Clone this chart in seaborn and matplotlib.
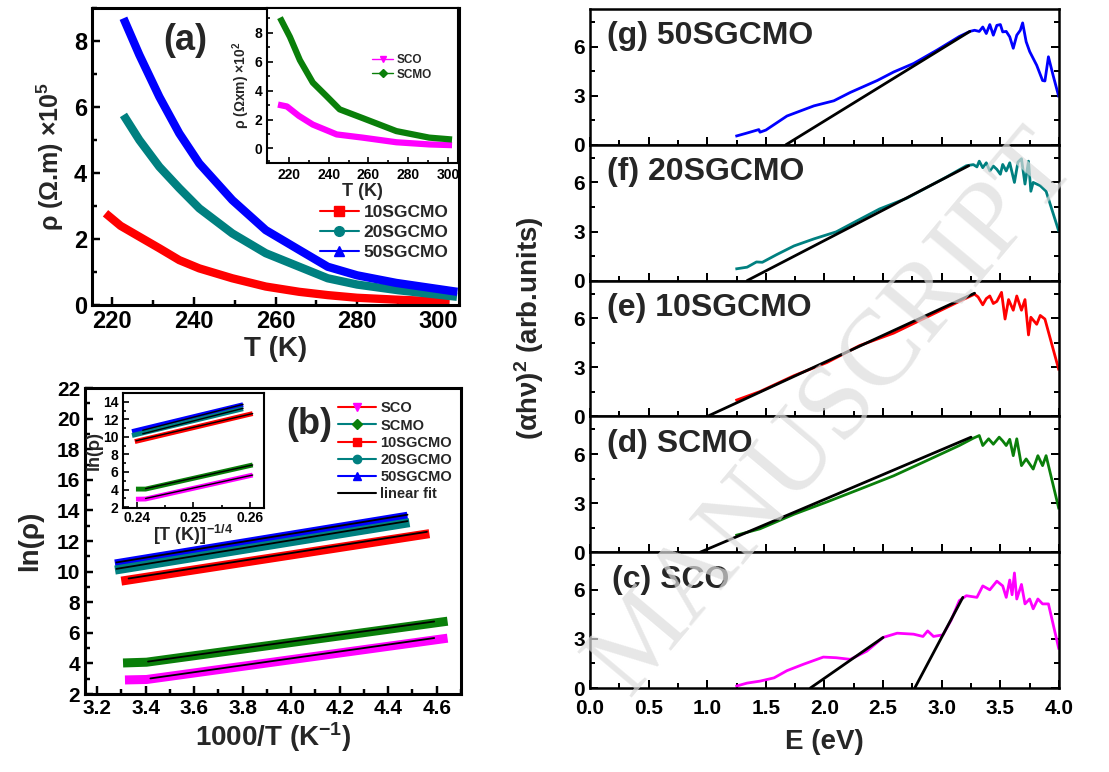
import matplotlib
matplotlib.use('Agg')
import matplotlib.pyplot as plt
from matplotlib.lines import Line2D
from matplotlib.ticker import MultipleLocator, FormatStrFormatter
import pandas as pd
import seaborn as sns

RED, TEAL, BLUE, GREEN, MAGENTA = '#ff0000', '#008080', '#0000ff', '#0a7f0a', '#ff00ff'

# ---- (a) rho vs T, main panel (x10^5 Ohm.m)
t_10 = [218.3, 222, 226.6, 231.5, 236.4, 241.3, 249.4, 257.6, 265.8, 272.8, 280, 290, 302.7]
rho_10 = [2.78, 2.4, 2.07, 1.72, 1.36, 1.11, 0.81, 0.56, 0.4, 0.3, 0.22, 0.16, 0.1]
t_20 = [222.7, 226.6, 231.5, 236.4, 241.3, 249.4, 257.6, 265.8, 272.8, 280, 290, 304.5]
rho_20 = [5.76, 5.0, 4.19, 3.54, 2.93, 2.17, 1.57, 1.16, 0.81, 0.62, 0.45, 0.25]
t_50 = [222.7, 226.6, 231.5, 236.4, 241.3, 249.4, 257.6, 265.8, 272.8, 280, 289.6, 304.6]
rho_50 = [8.69, 7.58, 6.31, 5.2, 4.29, 3.18, 2.27, 1.67, 1.16, 0.9, 0.67, 0.4]

# ---- (a) inset (x10^2)
t_sco = [214.5, 219, 225, 232, 240.5, 244, 257, 274, 290.5, 302]
rho_sco = [3.03, 2.9, 2.25, 1.65, 1.17, 0.97, 0.75, 0.43, 0.28, 0.23]
t_scmo = [215.5, 220.5, 225.5, 232, 239, 245.5, 257, 274, 290.5, 302]
rho_scmo = [9.03, 7.7, 6.1, 4.55, 3.6, 2.7, 2.1, 1.2, 0.75, 0.62]

# ---- (b) ln(rho) vs 1000/T
inv_sco = [3.315, 3.404, 4.645]
ln_sco = [2.92, 2.95, 5.65]
inv_scmo = [3.307, 3.404, 4.645]
ln_scmo = [4.03, 4.08, 6.76]
inv_10 = [3.30, 4.57]
ln_10 = [9.38, 12.48]
inv_20 = [3.274, 4.488]
ln_20 = [10.1, 13.2]
inv_50 = [3.274, 4.48]
ln_50 = [10.5, 13.62]
fit_inv = {'SCO': ([3.42, 4.59], [3.02, 5.66]), 'SCMO': ([3.41, 4.59], [4.12, 6.74]),
           '10SGCMO': ([3.33, 4.56], [9.55, 12.6]), '20SGCMO': ([3.28, 4.48], [10.18, 13.3]),
           '50SGCMO': ([3.28, 4.48], [10.6, 13.72])}

# ---- (b) inset ln(rho) vs T^-1/4
q_sco = [0.2398, 0.2415, 0.2605]
lq_sco = [2.9, 2.92, 5.65]
q_scmo = [0.2398, 0.2415, 0.2605]
lq_scmo = [4.05, 4.05, 6.8]
q_10 = [0.2396, 0.2605]
lq_10 = [9.46, 12.65]
q_20 = [0.2391, 0.2588]
lq_20 = [10.15, 13.2]
q_50 = [0.2391, 0.2588]
lq_50 = [10.6, 13.66]
fit_q = {'SCO': ([0.2415, 0.2605], [2.98, 5.65]), 'SCMO': ([0.2415, 0.2605], [4.1, 6.8]),
         '10SGCMO': ([0.2398, 0.2605], [9.55, 12.65]), '20SGCMO': ([0.241, 0.2588], [10.35, 13.25]),
         '50SGCMO': ([0.241, 0.2588], [10.75, 13.7])}

# ---- (c)-(g) (alpha h nu)^2 vs E
e_50 = [1.24, 1.33, 1.44, 1.45, 1.5, 1.68, 1.91, 2.08, 2.22, 2.45, 2.59, 2.76, 2.96, 3.15, 3.24,
        3.28, 3.32, 3.35, 3.38, 3.41, 3.44, 3.47, 3.5, 3.52, 3.55, 3.58, 3.61, 3.64, 3.67, 3.69,
        3.72, 3.75, 3.81, 3.86, 3.88, 3.91, 3.95, 4.0]
a_50 = [0.52, 0.7, 0.93, 0.77, 0.9, 1.76, 2.38, 2.69, 3.2, 3.93, 4.45, 4.97, 5.79, 6.62, 6.93,
        7.0, 6.93, 7.2, 6.8, 7.35, 6.7, 7.3, 7.35, 6.9, 6.93, 6.6, 5.9, 6.7, 7.0, 7.45,
        6.3, 5.7, 4.86, 3.93, 3.9, 5.38, 4.24, 2.9]
fit_50 = ([1.67, 3.24], [0.0, 6.93])

e_20 = [1.24, 1.34, 1.42, 1.47, 1.59, 1.74, 1.91, 2.1, 2.3, 2.47, 2.7, 2.87, 3.04, 3.21, 3.27,
        3.3, 3.32, 3.35, 3.38, 3.41, 3.44, 3.47, 3.5, 3.52, 3.55, 3.58, 3.62, 3.65, 3.68, 3.71,
        3.74, 3.76, 3.78, 3.84, 3.89, 4.0]
a_20 = [0.71, 0.82, 1.14, 1.12, 1.58, 2.12, 2.55, 2.98, 3.74, 4.38, 5.03, 5.68, 6.33, 7.02, 7.09,
        6.95, 7.3, 6.9, 7.2, 6.7, 7.0, 6.8, 6.5, 7.1, 6.7, 7.2, 6.0, 7.24, 7.45, 5.9,
        7.3, 5.46, 6.0, 5.8, 5.46, 2.98]
fit_20 = ([1.34, 3.23], [0.0, 7.02])

e_10 = [1.24, 1.45, 1.74, 2.02, 2.3, 2.59, 2.87, 3.15, 3.28, 3.31, 3.35, 3.38, 3.41, 3.44, 3.47,
        3.51, 3.54, 3.57, 3.61, 3.64, 3.68, 3.71, 3.74, 3.76, 3.81, 3.84, 3.88, 4.0]
a_10 = [0.97, 1.52, 2.49, 3.29, 4.33, 5.09, 6.06, 7.03, 7.47, 7.3, 6.82, 7.2, 7.36, 6.9, 7.03,
        7.58, 5.95, 7.14, 6.49, 7.36, 6.49, 7.14, 4.98, 6.06, 5.63, 6.17, 5.95, 2.81]
fit_10 = ([1.0, 3.28], [0.0, 7.53])

e_scmo = [1.24, 1.45, 1.74, 2.02, 2.3, 2.59, 2.87, 3.15, 3.27, 3.32, 3.35, 3.4, 3.44, 3.49, 3.52,
          3.55, 3.58, 3.61, 3.64, 3.68, 3.72, 3.78, 3.82, 3.86, 3.89, 4.0]
a_scmo = [1.02, 1.43, 2.32, 3.07, 3.85, 4.67, 5.59, 6.52, 6.97, 7.13, 6.52, 6.93, 6.6, 7.03, 6.8,
          6.52, 6.9, 5.9, 6.93, 5.29, 5.7, 5.08, 5.9, 5.29, 5.9, 2.62]
fit_scmo = ([0.94, 3.25], [0.0, 7.03])

e_sco = [1.24, 1.34, 1.45, 1.57, 1.68, 1.82, 1.99, 2.1, 2.22, 2.36, 2.5, 2.62, 2.76, 2.84, 2.88,
         2.93, 3.01, 3.08, 3.15, 3.21, 3.3, 3.35, 3.41, 3.47, 3.52, 3.55, 3.58, 3.6, 3.62, 3.64,
         3.68, 3.71, 3.75, 3.78, 3.82, 3.86, 3.91, 4.0]
a_sco = [0.1, 0.3, 0.42, 0.62, 1.06, 1.45, 1.89, 1.85, 1.75, 2.25, 3.09, 3.35, 3.29, 3.15, 3.49,
         3.15, 3.25, 4.14, 5.34, 5.64, 5.54, 6.24, 6.0, 6.53, 6.24, 5.54, 6.6, 5.7, 7.03, 5.44,
         6.33, 5.14, 5.44, 4.84, 5.44, 5.14, 5.14, 2.35]
fit_sco = [([1.88, 2.5], [0.0, 3.09]), ([2.77, 3.18], [0.0, 5.54])]

sns.set_theme(style='ticks')
plt.rcParams['font.family'] = ['Liberation Sans', 'DejaVu Sans']
plt.rcParams['font.weight'] = 'bold'
plt.rcParams['axes.labelweight'] = 'bold'
plt.rcParams['mathtext.fontset'] = 'custom'
plt.rcParams['mathtext.rm'] = 'Liberation Sans:bold'
plt.rcParams['mathtext.it'] = 'Liberation Sans:bold'
plt.rcParams['mathtext.bf'] = 'Liberation Sans:bold'


def style(ax, xmaj, xmin, ymaj, ymin, size, lw=2.0):
    ax.xaxis.set_major_locator(MultipleLocator(xmaj))
    ax.xaxis.set_minor_locator(MultipleLocator(xmin))
    ax.yaxis.set_major_locator(MultipleLocator(ymaj))
    ax.yaxis.set_minor_locator(MultipleLocator(ymin))
    ax.tick_params(which='both', direction='in', width=lw * 0.8, labelsize=size, colors='black')
    ax.tick_params(which='major', length=6)
    ax.tick_params(which='minor', length=3.5)
    for s in ax.spines.values():
        s.set_linewidth(lw)
        s.set_color('black')
    ax.grid(False)


def band(ax, x, y, color, lw):
    df = pd.DataFrame({'x': x, 'y': y})
    sns.lineplot(data=df, x='x', y='y', ax=ax, color=color, lw=lw, sort=False,
                 estimator=None, solid_capstyle='butt')


def fit(ax, x, y, lw=1.5):
    df = pd.DataFrame({'x': x, 'y': y})
    sns.lineplot(data=df, x='x', y='y', ax=ax, color='black', lw=lw, sort=False, estimator=None)


fig = plt.figure(figsize=(11.09, 7.72), dpi=100)

# ---------------- (a)
axa = fig.add_axes([0.0830, 0.6049, 0.3309, 0.3847])
band(axa, t_10, rho_10, RED, 6)
band(axa, t_20, rho_20, TEAL, 6)
band(axa, t_50, rho_50, BLUE, 6)
axa.set_xlim(215, 305)
axa.set_ylim(0, 9)
style(axa, 20, 10, 2, 1, 17, 2.2)
axa.set_xlabel('T (K)', fontsize=20, labelpad=2)
axa.set_ylabel(r'ρ (Ω.m) $\times$10$^{5}$', fontsize=18, labelpad=6)
axa.text(0.195, 0.86, '(a)', transform=axa.transAxes, fontsize=26, fontweight='bold')
ha = [Line2D([], [], color=RED, marker='s', lw=1.5, ms=7),
      Line2D([], [], color=TEAL, marker='o', lw=1.5, ms=7),
      Line2D([], [], color=BLUE, marker='^', lw=1.5, ms=7)]
axa.legend(ha, ['10SGCMO', '20SGCMO', '50SGCMO'], loc='lower right',
           bbox_to_anchor=(1.0, 0.115), frameon=False, fontsize=12.5, handlelength=2.2,
           labelspacing=0.3, handletextpad=0.3, borderaxespad=0.2)

# inset (a)
axai = fig.add_axes([0.2408, 0.7889, 0.1722, 0.2008])
band(axai, t_sco, rho_sco, MAGENTA, 4.5)
band(axai, t_scmo, rho_scmo, GREEN, 4.5)
axai.set_xlim(209, 305)
axai.set_ylim(-1, 9.7)
style(axai, 20, 10, 2, 1, 10, 1.5)
axai.tick_params(which='major', length=4)
axai.tick_params(which='minor', length=2.5)
axai.set_xlabel('T (K)', fontsize=13, labelpad=1)
axai.set_ylabel(r'ρ (Ωxm) $\times$10$^{2}$', fontsize=10, labelpad=2)
hi = [Line2D([], [], color=MAGENTA, marker='v', lw=1, ms=5),
      Line2D([], [], color=GREEN, marker='D', lw=1, ms=4)]
axai.legend(hi, ['SCO', 'SCMO'], loc='upper right', bbox_to_anchor=(0.92, 0.77),
            frameon=False, fontsize=8.5, handlelength=1.8, labelspacing=0.2, handletextpad=0.3)

# ---------------- (b)
axb = fig.add_axes([0.0766, 0.1010, 0.3390, 0.3964])
for x, y, c in [(inv_50, ln_50, BLUE), (inv_20, ln_20, TEAL), (inv_10, ln_10, RED),
                (inv_scmo, ln_scmo, GREEN), (inv_sco, ln_sco, MAGENTA)]:
    band(axb, x, y, c, 6.5)
for k in fit_inv:
    fit(axb, *fit_inv[k], lw=1.3)
axb.set_xlim(3.15, 4.70)
axb.set_ylim(2, 22)
style(axb, 0.2, 0.1, 2, 1, 15, 2.2)
axb.xaxis.set_major_formatter(FormatStrFormatter('%.1f'))
axb.set_xlabel(r'1000/T (K$^{-1}$)', fontsize=20, labelpad=2)
axb.set_ylabel('ln(ρ)', fontsize=20, labelpad=10)
axb.text(0.535, 0.85, '(b)', transform=axb.transAxes, fontsize=26, fontweight='bold')
hb = [Line2D([], [], color=RED, marker='v', mfc=MAGENTA, mec=MAGENTA, lw=1.5, ms=6),
      Line2D([], [], color=TEAL, marker='D', mfc=GREEN, mec=GREEN, lw=1.5, ms=5),
      Line2D([], [], color=RED, marker='s', lw=1.5, ms=6),
      Line2D([], [], color=TEAL, marker='o', lw=1.5, ms=6),
      Line2D([], [], color=BLUE, marker='^', lw=1.5, ms=6),
      Line2D([], [], color='black', lw=1.5)]
axb.legend(hb, ['SCO', 'SCMO', '10SGCMO', '20SGCMO', '50SGCMO', 'linear fit'],
           loc='upper right', bbox_to_anchor=(1.0, 0.985), frameon=False, fontsize=10.5,
           handlelength=2.6, labelspacing=0.22, handletextpad=0.3, borderaxespad=0.2)

# inset (b)
axbi = fig.add_axes([0.1109, 0.3420, 0.1271, 0.1490])
for x, y, c in [(q_50, lq_50, BLUE), (q_20, lq_20, TEAL), (q_10, lq_10, RED),
                (q_scmo, lq_scmo, GREEN), (q_sco, lq_sco, MAGENTA)]:
    band(axbi, x, y, c, 3.5)
for k in fit_q:
    fit(axbi, *fit_q[k], lw=1.0)
axbi.set_xlim(0.2375, 0.2625)
axbi.set_ylim(1.9, 15)
style(axbi, 0.01, 0.005, 2, 1, 10, 1.5)
axbi.tick_params(which='major', length=4)
axbi.tick_params(which='minor', length=2.5)
axbi.tick_params(axis='x', pad=2)
axbi.xaxis.set_major_formatter(FormatStrFormatter('%.2f'))
axbi.set_xlabel(r'[T (K)]$^{-1/4}$', fontsize=13, labelpad=-1)
axbi.set_ylabel('ln(ρ)', fontsize=13, labelpad=0)

# ---------------- (c)-(g)
panels = [('(g) 50SGCMO', e_50, a_50, BLUE, [fit_50]),
          ('(f) 20SGCMO', e_20, a_20, TEAL, [fit_20]),
          ('(e) 10SGCMO', e_10, a_10, RED, [fit_10]),
          ('(d) SCMO', e_scmo, a_scmo, GREEN, [fit_scmo]),
          ('(c) SCO', e_sco, a_sco, MAGENTA, fit_sco)]
top_px, bot_px = 9, 688
h_px = (bot_px - top_px) / len(panels)
for i, (name, e, a, c, fits) in enumerate(panels):
    y0 = 1 - (top_px + (i + 1) * h_px) / 772
    ax = fig.add_axes([0.5320, y0, 0.4229, h_px / 772])
    band(ax, e, a, c, 2.0)
    for fx, fy in fits:
        fit(ax, fx, fy, lw=2.0)
    ax.set_xlim(0, 4)
    ax.set_ylim(0, 8.3)
    style(ax, 0.5, 0.25, 3, 1.5, 15, 1.8)
    ax.tick_params(axis='y', which='both', right=True)
    ax.xaxis.set_major_formatter(FormatStrFormatter('%.1f'))
    ax.set_ylabel('')
    xt = 0.047 if name.startswith('(c)') else 0.036
    ax.text(xt, 0.74, name, transform=ax.transAxes, fontsize=23, fontweight='bold')
    if i < len(panels) - 1:
        ax.set_xlabel('')
        ax.tick_params(axis='x', labelbottom=False)
    else:
        ax.tick_params(axis='x', pad=8)
        ax.set_xlabel('E (eV)', fontsize=20, labelpad=8)
fig.text(0.477, 0.575, r'(αhν)$^{2}$ (arb.units)', rotation=90, ha='center', va='center',
         fontsize=20, fontweight='bold')

# watermark
fig.text(0.752, 0.465, 'MANUSCRIPT', rotation=50, ha='center', va='center',
         rotation_mode='anchor', fontsize=78, family='Liberation Serif', fontweight='normal',
         color='#dddddd', alpha=0.7, zorder=10)

fig.savefig('out.png', dpi=100)
